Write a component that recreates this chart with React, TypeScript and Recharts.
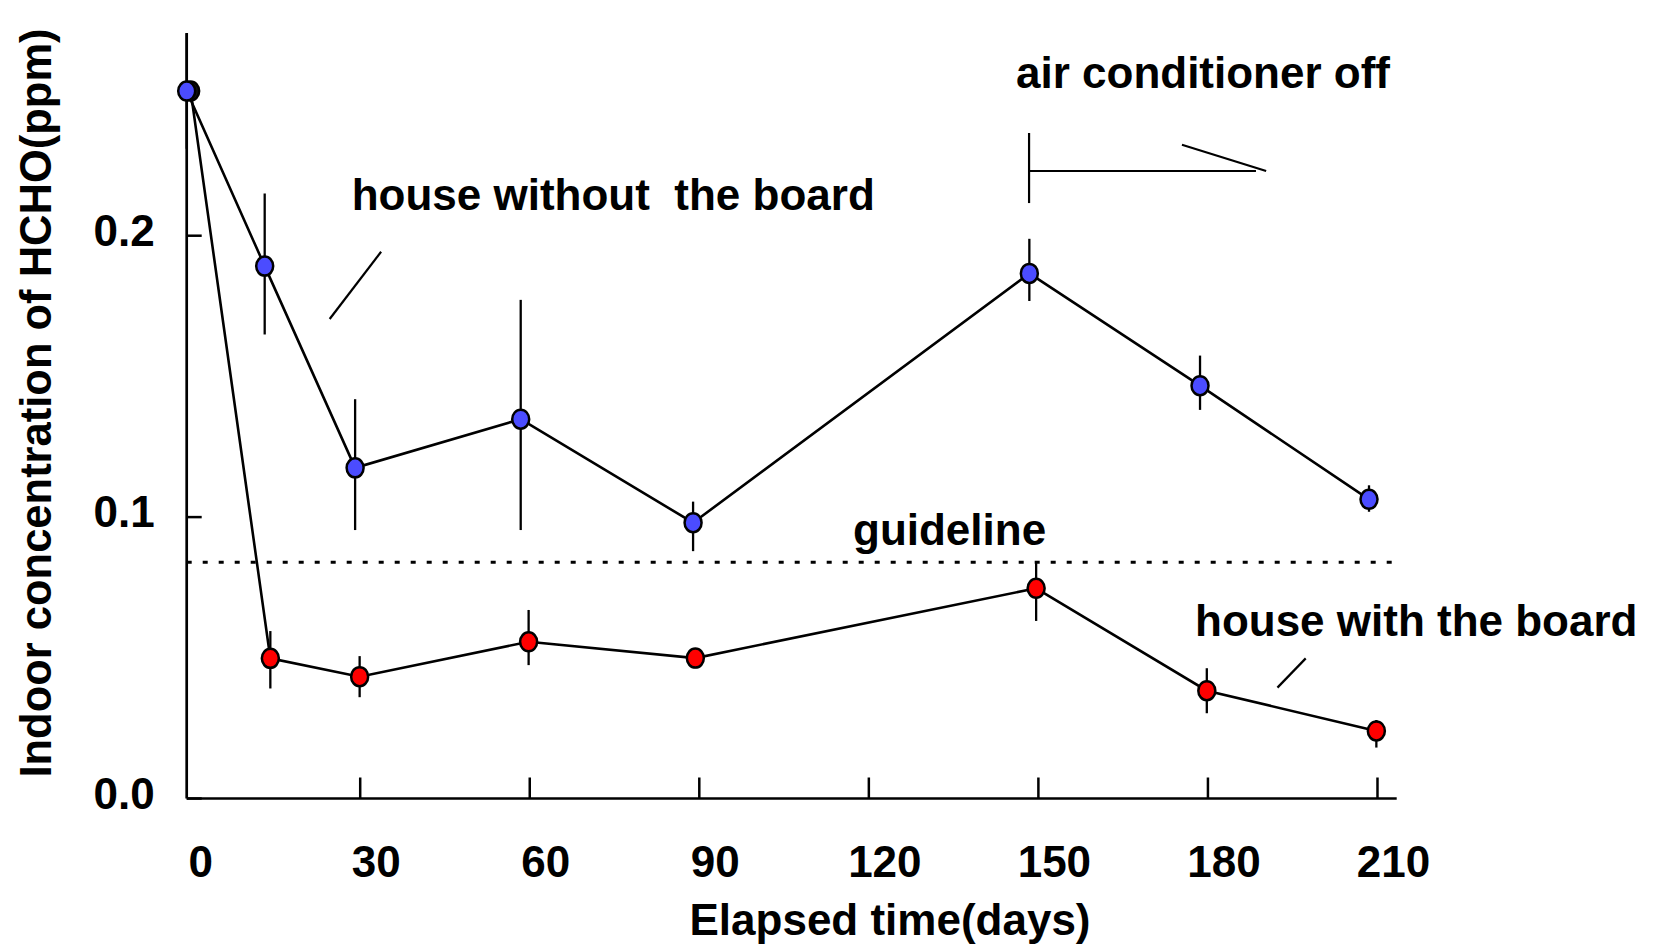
import { LineChart, Line, XAxis, YAxis, ErrorBar, ReferenceLine } from "recharts";

// house without the board (blue)
const blueDays = [-0.7, 13.1, 29.1, 58.4, 88.9, 148.4, 178.6, 208.5];
const blueValues = [0.2514, 0.1892, 0.1175, 0.1348, 0.098, 0.1866, 0.1467, 0.1063];
const blueErrors = [
  [0.0205, 0.0205], [0.0243, 0.0258], [0.0221, 0.0244], [0.0394, 0.0424],
  [0.0101, 0.0075], [0.0098, 0.0123], [0.0086, 0.0107], [0.0044, 0.005],
];

// house with the board (red)
const redDays = [0, 14.1, 29.9, 59.8, 89.3, 149.6, 179.8, 209.8];
const redValues = [0.2514, 0.0498, 0.0433, 0.0557, 0.0499, 0.0747, 0.0383, 0.024];
const redErrors = [
  [0, 0], [0.0107, 0.0097], [0.0073, 0.0073], [0.0083, 0.0113],
  [0.0036, 0.002], [0.0116, 0.0095], [0.008, 0.008], [0.0059, 0.0039],
];

const guideline = 0.084;
const xTicks = [0, 30, 60, 90, 120, 150, 180, 210];
const yTicks = [0, 0.1, 0.2];

// annotation strokes, in data units
const pointerWithout = [{ x: 33.7, y: 0.1943 }, { x: 24.6, y: 0.1704 }];
const pointerWith = [{ x: 197.3, y: 0.0498 }, { x: 192.3, y: 0.0394 }];
const acStart = [{ x: 148.35, y: 0.2365 }, { x: 148.35, y: 0.2116 }];
const acArrow = [{ x: 148.35, y: 0.223 }, { x: 188.5, y: 0.223 }];
const acHead = [{ x: 175.4, y: 0.2323 }, { x: 190.3, y: 0.223 }];

const blueData = blueDays.map((day, i) => ({ day, v: blueValues[i], err: blueErrors[i] }));
const redData = redDays.map((day, i) => ({ day, v: redValues[i], err: redErrors[i] }));

const FONT = "'Liberation Sans', Arial, sans-serif";

const makeDot = (fill: string, firstFill?: string) => (props: any) => {
  const { cx, cy, index } = props;
  return (
    <ellipse
      key={`dot-${fill}-${index}`}
      cx={cx}
      cy={cy}
      rx={8.5}
      ry={9.5}
      fill={index === 0 && firstFill ? firstFill : fill}
      stroke="#000"
      strokeWidth={2.5}
    />
  );
};

const XTick = (props: any) => {
  const { x, y, payload } = props;
  const first = payload.value === 0;
  return (
    <g>
      {!first && <line x1={x} y1={y} x2={x} y2={y - 21} stroke="#000" strokeWidth={2.5} />}
      <text x={x + (first ? 10 : 16)} y={y + 78} textAnchor="middle" fontFamily={FONT} fontWeight={700} fontSize={44} fill="#000">
        {payload.value}
      </text>
    </g>
  );
};

const YTick = (props: any) => {
  const { x, y, payload } = props;
  return (
    <g>
      <line x1={x} y1={y} x2={x + 15} y2={y} stroke="#000" strokeWidth={2.5} />
      <text x={x - 32} y={y + 10} textAnchor="end" fontFamily={FONT} fontWeight={700} fontSize={44} fill="#000">
        {Number(payload.value).toFixed(1)}
      </text>
    </g>
  );
};

const txt = { fontFamily: FONT, fontWeight: 700, fontSize: 44, fill: "#000" } as const;

export default function App() {
  return (
    <div style={{ position: "absolute", left: 0, top: 0, width: 1656, height: 947, background: "#fff" }}>
      <LineChart width={1656} height={947} margin={{ top: 33.1, right: 259.3, bottom: 0, left: 0 }}>
        <XAxis
          type="number"
          dataKey="day"
          domain={[-0.7, 213.4]}
          ticks={xTicks}
          height={148.5}
          tickSize={0}
          tickMargin={0}
          tickLine={false}
          axisLine={{ stroke: "#000", strokeWidth: 2.7 }}
          tick={<XTick />}
        />
        <YAxis
          type="number"
          domain={[0, 0.272]}
          ticks={yTicks}
          width={186.7}
          tickSize={0}
          tickMargin={0}
          tickLine={false}
          axisLine={{ stroke: "#000", strokeWidth: 2.7 }}
          tick={<YTick />}
        />
        <ReferenceLine y={guideline} stroke="#000" strokeWidth={3} strokeDasharray="5 11" />
        <ReferenceLine segment={pointerWithout} stroke="#000" strokeWidth={2.2} />
        <ReferenceLine segment={pointerWith} stroke="#000" strokeWidth={2.2} />
        <ReferenceLine segment={acStart} stroke="#000" strokeWidth={2.2} />
        <ReferenceLine segment={acArrow} stroke="#000" strokeWidth={2.2} />
        <ReferenceLine segment={acHead} stroke="#000" strokeWidth={2.2} />
        <Line
          data={redData}
          dataKey="v"
          stroke="#000"
          strokeWidth={2.6}
          dot={makeDot("#ff0000", "#111")}
          activeDot={false}
          isAnimationActive={false}
        >
          <ErrorBar dataKey="err" direction="y" width={0} stroke="#000" strokeWidth={2.3} />
        </Line>
        <Line
          data={blueData}
          dataKey="v"
          stroke="#000"
          strokeWidth={2.6}
          dot={makeDot("#4b4cff")}
          activeDot={false}
          isAnimationActive={false}
        >
          <ErrorBar dataKey="err" direction="y" width={0} stroke="#000" strokeWidth={2.3} />
        </Line>
      </LineChart>
      <svg width={1656} height={947} style={{ position: "absolute", left: 0, top: 0, pointerEvents: "none" }}>
        <text x={351.7} y={210} {...txt} style={{ whiteSpace: "pre" }}>house without  the board</text>
        <text x={1016} y={88} {...txt}>air conditioner off</text>
        <text x={853} y={545} {...txt}>guideline</text>
        <text x={1195} y={636} {...txt}>house with the board</text>
        <text x={890} y={935} textAnchor="middle" {...txt}>Elapsed time(days)</text>
        <text x={50.5} y={403} textAnchor="middle" transform="rotate(-90 50.5 403)" {...txt} fontSize={43.5}>
          Indoor concentration of HCHO(ppm)
        </text>
      </svg>
    </div>
  );
}
